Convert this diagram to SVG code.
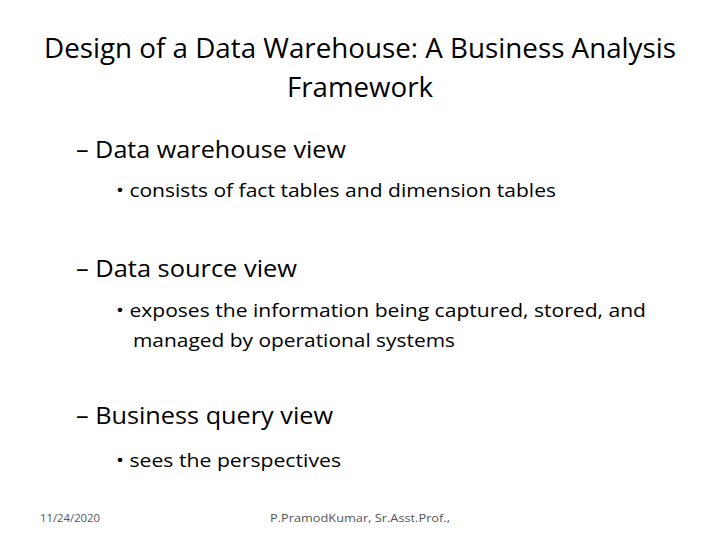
<svg xmlns="http://www.w3.org/2000/svg" width="720" height="540" viewBox="0 0 720 540">
<style>
text{font-family:"Open Sans","Liberation Sans",sans-serif;fill:#000}
.t{font-size:27px}
.l1{font-size:23px}
.l2{font-size:19px}
.f{font-size:10px;fill:#555}
</style>
<rect width="720" height="540" fill="#fff"/>
<g id="title">
<text class="t" x="360" y="58" text-anchor="middle" textLength="632" lengthAdjust="spacingAndGlyphs">Design of a Data Warehouse: A Business Analysis</text>
<text class="t" x="360" y="97" text-anchor="middle" textLength="146" lengthAdjust="spacingAndGlyphs">Framework</text>
</g>
<g id="body">
<text class="l1" x="76" y="158" textLength="270" lengthAdjust="spacingAndGlyphs">– Data warehouse view</text>
<text class="l2" x="116" y="197" textLength="440" lengthAdjust="spacingAndGlyphs">• consists of fact tables and dimension tables</text>
<text class="l1" x="76" y="277" textLength="221" lengthAdjust="spacingAndGlyphs">– Data source view</text>
<text class="l2" x="116" y="317" textLength="530" lengthAdjust="spacingAndGlyphs">• exposes the information being captured, stored, and</text>
<text class="l2" x="133" y="347" textLength="322" lengthAdjust="spacingAndGlyphs">managed by operational systems</text>
<text class="l1" x="76" y="424" textLength="257" lengthAdjust="spacingAndGlyphs">– Business query view</text>
<text class="l2" x="116" y="467" textLength="225" lengthAdjust="spacingAndGlyphs">• sees the perspectives</text>
</g>
<g id="footer">
<text class="f" x="40" y="522" textLength="60" lengthAdjust="spacingAndGlyphs">11/24/2020</text>
<text class="f" x="360" y="522" text-anchor="middle" textLength="180" lengthAdjust="spacingAndGlyphs">P.PramodKumar, Sr.Asst.Prof.,</text>
</g>
</svg>
